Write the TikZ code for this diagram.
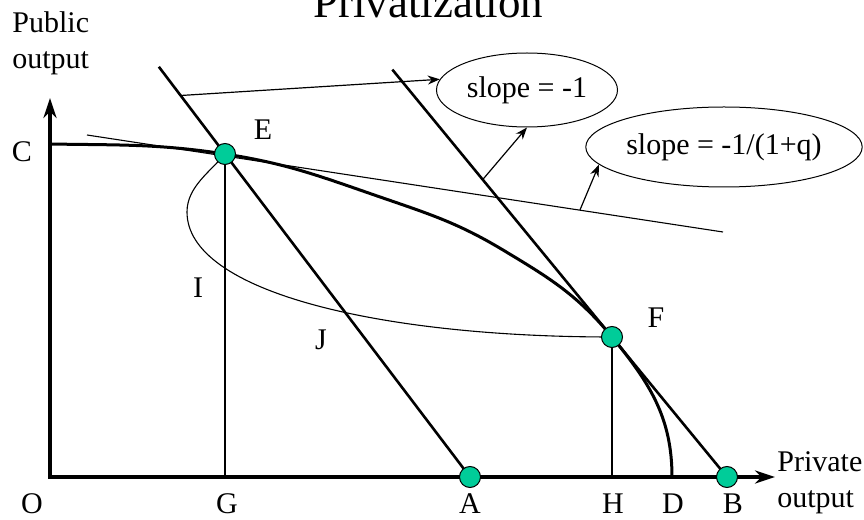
\documentclass[tikz,border=0pt]{standalone}
\usepackage{fontspec}
\setmainfont{Liberation Serif}
\usetikzlibrary{shapes.geometric, arrows.meta, calc}
\definecolor{dotgreen}{RGB}{0,204,153}

\begin{document}
\begin{tikzpicture}[x=0.5pt, y=0.5pt,
    font=\fontsize{15}{18}\selectfont,
    axis/.style={line width=1.75pt, {Stealth[length=10pt, width=6.5pt]}-{Stealth[length=10pt, width=6.5pt]}},
    budget/.style={line width=1.3pt},
    frontier/.style={line width=1.5pt},
    guide/.style={line width=0.55pt},
    pt/.style={circle, draw, line width=0.5pt, fill=dotgreen, minimum size=10.5pt, inner sep=0pt},
    note/.style={draw, ellipse, line width=0.5pt, inner sep=0pt},
    arrow/.style={line width=0.6pt, -{Stealth[length=6pt, width=4.5pt]}},
    lbl/.style={inner sep=0pt, anchor=base}
]
    \useasboundingbox (-50,-43) rectangle (814,477);

    % Axes
    \coordinate (O) at (0,0);
    \coordinate (xend) at (725,0);
    \coordinate (yend) at (0,379);
    \draw[axis] (yend) -- (O) -- (xend);

    % Key points
    \coordinate (C) at (0,333);
    \coordinate (D) at (622,0);
    \coordinate (e) at (175,323);
    \coordinate (f) at (562,140);
    \coordinate (a) at (420,0);
    \coordinate (b) at (677,0);

    % Frontier
    \draw[frontier] (C) to[out=-1, in=171.3] (e)
        to[out=-8.7, in=161] (333,279)
        to[out=-19, in=149] (453,227)
        to[out=-31, in=129.4] (f)
        to[out=-50.6, in=90] (D);

    % Price lines
    \coordinate (t1) at ($(a)!1.27!(e)$);
    \coordinate (t2) at ($(b)!2.91!(f)$);
    \draw[budget] (t1) -- coordinate[pos=0.07] (s1) (a);
    \draw[budget] (t2) -- coordinate[pos=0.27] (s2) (b);

    % Tangent at E
    \coordinate (w1) at (37,342);
    \coordinate (w2) at (673,245);
    \draw[guide] (w1) -- coordinate[pos=0.775] (s3) (w2);

    % Drop lines and loop
    \draw[guide] (e) -- (e |- O);
    \draw[guide] (f) -- (f |- O);
    \draw[guide] (e) .. controls (160,305) and (137,290) .. (137,265)
        .. controls (137,185) and (330,140) .. (f);

    % Slope notes
    \node[note, minimum width=90.5pt, minimum height=37pt] (n1) at (477,387) {slope = -1};
    \node[note, minimum width=121pt, minimum height=40pt] (n2) at (674,330) {slope = -1/(1+q)};
    \draw[arrow] (s1) -- (n1.173);
    \draw[arrow] (s2) -- (n1.south);
    \draw[arrow] (s3) -- (n2.188);

    % Labels
    \node[lbl, font=\fontsize{22.5}{27}\selectfont] (title) at (378,459) {Privatization};
    \node[inner sep=0pt, anchor=north west, align=left] (ylab) at (-38,465.5) {Public\\output};
    \node[inner sep=0pt, anchor=north west, align=left] (xlab) at (727,25.5) {Private\\output};
    \foreach \n/\x in {O/-18, G/177, A/420, H/563, D/623, B/683}
        \node[lbl] (lab\n) at (\x,-37) {\n};
    \node[lbl] (labC) at (-28,315) {C};
    \node[lbl] (labE) at (213,337) {E};
    \node[lbl] (labF) at (606,149) {F};
    \node[lbl] (labI) at (148,179) {I};
    \node[lbl] (labJ) at (271,127) {J};

    % Dots
    \node[pt] (dotE) at (e) {};
    \node[pt] (dotF) at (f) {};
    \node[pt] (dotA) at (a) {};
    \node[pt] (dotB) at (b) {};
\end{tikzpicture}
\end{document}
